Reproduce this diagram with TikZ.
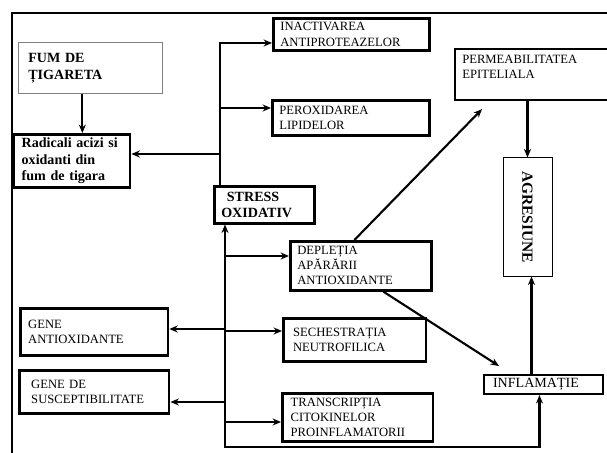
\documentclass[tikz,border=0pt]{standalone}
\usepackage{fontspec}
\setmainfont{Liberation Serif}
\usetikzlibrary{arrows.meta, positioning}

\begin{document}
\begin{tikzpicture}[x=0.025cm, y=-0.025cm, >={Stealth[length=6pt,width=5pt]},
    box/.style={draw, line width=1.8pt, anchor=north west, align=left, inner xsep=5pt, inner ysep=1pt, font=\fontsize{9}{11}\selectfont},
    boldbox/.style={box, font=\fontsize{10}{11.7}\selectfont\bfseries},
    link/.style={line width=1.5pt}]
    \clip (0,0) rectangle (607,453);
    % outer frame
    \draw[line width=1.8pt] (12,453) -- (12,13) -- (607,13);

    % left column
    \node[boldbox, draw=gray, line width=0.7pt, inner xsep=7pt, text width=3.1cm, minimum height=1.275cm] (fum) at (18,42) {FUM DE\\ȚIGARETA};
    \node[boldbox, inner xsep=6pt, text width=2.5cm, minimum height=1.325cm] (rad) at (12,133) {Radicali acizi si\\oxidanti din\\fum de tigara};
    \node[box, inner xsep=5.6pt, text width=3.3cm, minimum height=1.175cm] (geneA) at (19,307) {GENE\\ANTIOXIDANTE\\[2pt]};
    \node[box, inner xsep=8.5pt, text width=3.15cm, minimum height=1.075cm] (geneS) at (18,369) {GENE DE\\SUSCEPTIBILITATE};

    % middle column
    \node[box, text width=3.55cm, minimum height=0.8cm] (inact) at (272,17) {INACTIVAREA\\ANTIPROTEAZELOR};
    \node[box, text width=3.575cm, minimum height=0.875cm] (perox) at (271,99) {PEROXIDAREA\\LIPIDELOR};
    \node[boldbox, text width=2.15cm, minimum height=0.925cm] (stress) at (213,185) {\hspace*{4pt}STRESS\\OXIDATIV};
    \node[box, font=\fontsize{9}{10.6}\selectfont, text width=3.175cm, minimum height=1.225cm] (depl) at (289,240) {DEPLEȚIA\\APĂRĂRII\\ANTIOXIDANTE};
    \node[box, inner xsep=7pt, text width=3.08cm, minimum height=1.075cm] (sech) at (282,317) {SECHESTRAȚIA\\NEUTROFILICA};
    \node[box, font=\fontsize{9}{10.6}\selectfont, inner xsep=6pt, text width=3.35cm, minimum height=1.2cm] (transc) at (281,392) {TRANSCRIPȚIA\\CITOKINELOR\\PROINFLAMATORII};

    % right column
    \node[box, line width=1.5pt, minimum width=4cm, minimum height=1.275cm] (perm) at (454,48) {};
    \node[anchor=north west, align=left, inner sep=0pt, font=\fontsize{9}{11}\selectfont] (permtxt) at ([xshift=0.2cm,yshift=-0.17cm]perm.north west) {PERMEABILITATEA\\EPITELIALA};
    % rotated: west = top, east = bottom
    \node[draw, line width=0.7pt, rotate=-90, minimum width=2.95cm, minimum height=1.225cm, font=\fontsize{11}{12}\selectfont\bfseries] (agr) at (527.5,217) {AGRESIUNE};
    \node[box, line width=1.5pt, inner xsep=6.4pt, inner ysep=0pt, font=\fontsize{10}{11}\selectfont, text width=2.52cm, minimum height=0.475cm] (infl) at (483,374) {INFLAMAȚIE};

    % connectors
    \draw[link,->] ([xshift=-0.2cm]fum.south) -- ([xshift=-0.2cm]fum.south |- rad.north);

    \coordinate (ua) at (220,43);
    \coordinate (ub) at (220,108);
    \coordinate (uc) at (220,154);
    \draw[link,->] (ua |- stress.north) -- (ua) -- (ua -| inact.west);
    \draw[link,->] (ub) -- (ub -| perox.west);
    \draw[link,->] (uc) -- (uc -| rad.east);

    \coordinate (lo) at (225,447);
    \coordinate (la) at (225,256);
    \coordinate (lb) at (225,329);
    \coordinate (lc) at (225,331);
    \coordinate (ld) at (225,402);
    \coordinate (le) at (225,422);
    \coordinate (il) at ([xshift=-0.1cm]infl.south);
    \draw[link,<->] (lo |- stress.south) -- (lo) -| (il);
    \draw[link,->] (la) -- (la -| depl.west);
    \draw[link,->] (lb) -- (lb -| geneA.east);
    \draw[link,->] (lc) -- (lc -| sech.west);
    \draw[link,->] (ld) -- (ld -| geneS.east);
    \draw[link,->] (le) -- (le -| transc.west);

    \draw[link,->] ([xshift=-0.16cm]depl.north) -- ([xshift=0.7cm,yshift=-0.2cm]perm.south west);
    \draw[link,->] ([xshift=0.56cm]depl.south) -- ([xshift=0.4cm,yshift=0.2cm]infl.north west);
    \draw[link,->] (agr.west |- perm.south) -- (agr.west);
    \coordinate (ag) at ([xshift=0.1cm]agr.east);
    \draw[link,->] (ag |- infl.north) -- (ag);
\end{tikzpicture}
\end{document}
